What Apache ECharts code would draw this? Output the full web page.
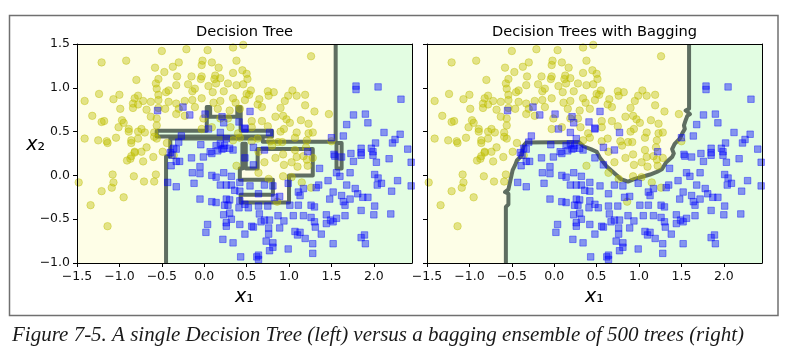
<!DOCTYPE html>
<html>
<head>
<meta charset="utf-8">
<script src="https://cdn.jsdelivr.net/npm/echarts@6/dist/echarts.min.js"></script>
<style>html,body{margin:0;padding:0;background:#fff}#c{width:792px;height:355px}</style>
</head>
<body>
<div id="c"></div>
<script>
// ---- tick labels ----
const xTicks = [-1.5, -1.0, -0.5, 0.0, 0.5, 1.0, 1.5, 2.0];
const yTicks = [-1.0, -0.5, 0.0, 0.5, 1.0, 1.5];
const xRange = [-1.5, 2.45];
const yRange = [-1.0, 1.5];

// ---- moons data: class 0 (yellow circles) ----
const class0 = [
[-0.50,1.42],[-0.21,1.44],[0.04,1.43],[0.34,1.46],[0.46,1.49],[-1.21,1.29],[-0.92,1.31],[-0.58,1.23],[-0.47,1.18],[-0.37,1.24],
[-0.30,1.29],[-0.02,1.31],[-0.03,1.26],[0.09,1.29],[0.17,1.23],[0.38,1.31],[0.45,1.20],[0.34,1.17],[-0.80,1.09],[-0.54,1.10],
[-0.57,1.05],[-0.32,1.13],[-0.15,1.13],[-0.03,1.13],[-0.04,1.10],[0.13,1.14],[0.12,1.10],[0.19,1.11],[0.14,1.05],[0.28,1.05],
[0.38,1.03],[-0.56,0.99],[-0.42,0.97],[-0.54,0.92],[-0.45,0.95],[-0.33,1.03],[-0.19,1.04],[-0.11,0.99],[-0.14,0.96],[0.05,1.02],
[0.10,0.95],[0.23,0.96],[0.46,1.04],[-1.24,0.93],[-1.00,0.92],[-1.07,0.87],[-0.78,0.91],[-0.82,0.88],[-1.41,0.85],[-0.84,0.82],
[-0.72,0.85],[-0.63,0.84],[-0.78,0.81],[-0.54,0.86],[-0.42,0.84],[-0.33,0.82],[-0.23,0.85],[-0.14,0.86],[-0.03,0.88],[0.11,0.83],
[0.19,0.85],[0.34,0.88],[0.37,0.83],[0.42,0.76],[0.48,0.86],[-0.99,0.76],[-0.84,0.77],[-0.68,0.75],[-0.54,0.77],[-0.46,0.76],
[-0.30,0.76],[-0.11,0.78],[0.16,0.76],[0.30,0.74],[-1.32,0.68],[-1.21,0.61],[-1.18,0.62],[-0.97,0.63],[-0.95,0.60],[-1.01,0.55],
[-0.89,0.53],[-0.74,0.53],[-0.63,0.67],[-0.56,0.65],[-0.56,0.57],[-0.33,0.70],[-0.23,0.68],[-0.01,0.65],[0.19,0.65],[0.28,0.65],
[-0.89,0.50],[-0.78,0.50],[-0.70,0.49],[-0.59,0.49],[-0.56,0.42],[-0.59,0.44],[-1.41,0.42],[-1.25,0.40],[-1.15,0.39],[-1.14,0.37],
[-1.04,0.43],[-0.86,0.40],[-0.86,0.37],[-0.78,0.42],[-0.44,0.37],[-0.03,0.53],[0.09,0.55],[0.31,0.55],[0.40,0.48],[0.42,0.43],
[0.34,0.40],[-0.82,0.27],[-0.68,0.32],[-0.74,0.27],
[1.26,1.36],[0.50,1.16],[0.51,1.10],[0.55,0.97],[0.50,0.93],[0.53,0.92],[0.75,0.96],[0.82,0.95],[0.76,0.91],[0.65,0.87],
[0.63,0.81],[0.68,0.78],[0.99,0.91],[1.04,0.97],[1.09,0.91],[1.19,0.92],[0.95,0.85],[0.90,0.77],[1.19,0.80],[1.30,0.73],
[1.47,0.70],[0.84,0.67],[0.93,0.68],[0.97,0.64],[1.01,0.60],[1.14,0.63],[1.23,0.59],[0.56,0.62],[0.68,0.62],[0.75,0.56],
[0.56,0.55],[0.94,0.53],[0.90,0.50],[1.09,0.49],[1.23,0.48],[1.28,0.49],[1.07,0.43],[1.21,0.40],[0.63,0.42],[0.56,0.39],
[0.78,0.39],[0.87,0.38],[0.92,0.38],[0.80,0.34],[1.07,0.29],[1.20,0.32],[1.50,0.39],
[-1.48,-0.08],[-1.21,-0.18],[-1.09,-0.14],[-1.08,0.01],[-1.07,-0.08],[-0.95,-0.25],[-0.83,-0.01],[-0.71,-0.07],[-0.57,0.01],[-0.59,-0.07],
[-0.91,0.17],[-0.87,0.19],[-0.86,0.22],[-0.82,0.26],[-0.72,0.16],[-0.60,0.21],[-0.49,0.27],[-0.36,0.23],[0.38,0.11],[-1.34,-0.34],
[-1.14,-0.58],
[0.64,0.27],[0.71,0.15],[0.84,0.20],[0.93,0.24],[0.94,0.12],[1.03,0.15],[1.09,0.21],[1.17,0.22],[1.21,0.18],[1.28,0.20],
[1.10,0.10],[1.22,0.11],[0.64,0.03],[0.76,-0.04],[0.93,-0.01],[1.03,-0.02],[1.15,-0.08],[1.26,-0.14],[0.86,-0.30]
];

// ---- moons data: class 1 (blue squares) ----
const class1 = [
[-0.55,0.74],[-0.25,0.78],[-0.17,0.69],[0.01,0.70],[0.21,0.67],[0.23,0.60],[0.41,0.61],[0.48,0.53],[0.05,0.53],[0.19,0.49],
[0.26,0.42],[-0.27,0.45],[-0.30,0.38],[-0.04,0.35],[0.14,0.34],[0.19,0.36],[0.24,0.34],[0.23,0.31],[0.30,0.31],[0.34,0.29],
[-0.36,0.31],[-0.40,0.26],[-0.33,0.30],[0.07,0.27],[0.21,0.30],[0.16,0.28],
[0.54,0.73],[0.48,0.54],[0.77,0.49],[0.58,0.32],[0.71,0.29],[1.22,0.27],[1.79,1.02],[1.79,0.98],[2.05,1.01],[2.32,0.87],
[1.76,0.69],[1.90,0.70],[1.93,0.60],[1.68,0.58],[1.64,0.45],[2.12,0.49],[2.31,0.47],[2.25,0.41],[2.22,0.37],[2.02,0.37],
[1.50,0.43],[2.40,0.30],[1.85,0.31],[1.97,0.31],[1.99,0.27],[1.73,0.25],[1.85,0.26],[1.53,0.24],
[-0.38,0.23],[-0.39,0.11],[-0.33,0.16],[-0.29,0.16],[-0.15,0.20],[-0.01,0.21],[0.09,0.25],[-0.05,0.10],[-0.14,0.03],[-0.05,0.02],
[0.09,0.00],[0.14,-0.02],[0.23,0.03],[0.32,-0.01],[-0.43,-0.08],[-0.33,-0.13],[-0.12,-0.09],[0.19,-0.11],[0.26,-0.11],[0.32,-0.11],
[0.42,-0.08],[0.36,-0.17],[0.42,-0.18],[-0.05,-0.27],[0.09,-0.30],[0.14,-0.31],[0.26,-0.27],[0.30,-0.28],[0.24,-0.34],[0.28,-0.34],
[0.42,-0.29],[0.41,-0.37],[0.23,-0.45],[0.30,-0.43],[0.32,-0.50],[0.26,-0.54],[0.26,-0.58],[0.04,-0.56],[0.02,-0.65],[0.42,-0.56],
[0.22,-0.73],[0.34,-0.77],[0.43,-0.93],
[0.48,0.20],[0.58,0.12],[0.54,-0.12],[0.64,-0.21],[0.71,-0.11],[0.81,-0.12],[0.83,-0.25],[0.89,-0.24],[0.99,-0.09],[1.11,-0.19],
[1.13,-0.23],[1.11,-0.34],[1.01,-0.34],[1.17,-0.15],[1.36,0.08],[1.35,-0.11],[1.32,-0.14],[1.46,-0.06],[1.56,0.03],[1.60,-0.01],
[1.72,0.03],[1.68,-0.11],[1.52,-0.19],[1.48,-0.27],[1.62,-0.23],[1.64,-0.30],[1.66,-0.34],[1.72,-0.27],[1.81,-0.21],[1.87,-0.25],
[1.93,-0.25],[1.78,-0.15],[2.01,-0.35],[2.00,-0.45],[1.85,-0.40],[2.20,-0.44],[2.21,-0.18],[2.28,-0.06],[2.44,-0.12],[2.01,0.01],
[2.05,-0.03],[2.04,-0.11],[2.09,-0.09],[1.54,0.22],[1.62,0.21],[1.76,0.16],[1.85,0.23],[2.03,0.15],[2.18,0.19],[2.44,0.15],
[1.99,0.23],[0.48,-0.33],[0.52,-0.37],[0.64,-0.35],[0.75,-0.35],[0.65,-0.44],[0.67,-0.53],[0.71,-0.51],[0.77,-0.51],[0.87,-0.46],
[0.94,-0.52],[0.56,-0.58],[0.58,-0.59],[0.76,-0.60],[0.76,-0.67],[0.89,-0.60],[1.05,-0.46],[1.17,-0.46],[1.26,-0.34],[1.30,-0.36],
[1.26,-0.48],[1.30,-0.53],[1.31,-0.59],[1.38,-0.67],[1.44,-0.45],[1.44,-0.55],[1.49,-0.51],[1.52,-0.53],[1.56,-0.49],[1.66,-0.46],
[1.07,-0.64],[1.10,-0.68],[1.13,-0.65],[1.19,-0.72],[1.28,-0.78],[1.52,-0.78],[1.85,-0.71],[1.89,-0.68],[1.90,-0.78],[0.48,-0.67],
[0.73,-0.75],[0.81,-0.77],[0.81,-0.82],[0.77,-0.86],[0.99,-0.84],[1.28,-0.89],[0.64,-0.91],[0.64,-0.96],[0.62,-0.93]
];

// ---- decision regions of the single tree (polygon vertices in data units) ----
const treeGreenMain = [[-0.45,-1.3],[2.7,-1.3],[2.7,1.8],[1.55,1.8],[1.55,0.385],[0.69,0.385],[0.69,0.42],[-0.40,0.42],[-0.40,0.22],[-0.45,0.22]];
const treeGreenStrip = [[-0.56,0.445],[0.80,0.445],[0.80,0.51],[0.43,0.51],[0.43,0.78],[0.39,0.78],[0.39,0.67],[0.07,0.67],[0.07,0.78],[0.03,0.78],[0.03,0.51],[-0.56,0.51]];
const treeYellowCenter = [[0.45,0.36],[0.49,0.36],[0.49,0.08],[0.63,0.08],[0.63,0.30],[1.28,0.30],[1.28,0.0],[1.0,0.0],[1.0,-0.31],[0.43,-0.31],[0.43,-0.22],[0.81,-0.22],[0.81,-0.05],[0.42,-0.05],[0.42,0.08],[0.45,0.08]];
const treeYellowFinger = [[1.56,0.08],[1.62,0.08],[1.62,0.37],[1.56,0.37]];
// ---- decision region of the bagging ensemble (class 0 area) ----
const baggingYellow = [[-1.8,-1.3],[-0.57,-1.3],[-0.57,-0.36],[-0.54,-0.33],[-0.54,-0.21],[-0.58,-0.19],[-0.54,-0.16],[-0.52,-0.07],[-0.49,0.06],[-0.46,0.12],
[-0.44,0.17],[-0.39,0.22],[-0.38,0.25],[-0.36,0.34],[-0.33,0.375],[0.29,0.38],[0.35,0.33],[0.43,0.30],[0.50,0.27],[0.54,0.20],
[0.58,0.15],[0.62,0.10],[0.68,0.05],[0.74,0.0],[0.78,-0.04],[0.87,-0.07],[0.95,-0.04],[1.06,-0.01],[1.13,0.01],[1.21,0.04],
[1.27,0.07],[1.32,0.15],[1.39,0.21],[1.41,0.25],[1.39,0.30],[1.42,0.36],[1.48,0.42],[1.51,0.48],[1.54,0.53],[1.53,0.57],
[1.55,0.63],[1.57,0.68],[1.60,0.70],[1.55,0.74],[1.59,0.76],[1.59,1.8],[-1.8,1.8]];

const YELLOW_BG = '#fefee7', GREEN_BG = '#e2fde2';
const LINE = '#56665a';

const fmt = v => (v < 0 ? '\u2212' : '') + Math.abs(v).toFixed(1);
const FONT = 'DejaVu Sans';

function xAxes(g) {
  return [{
    type: 'value', gridIndex: g, min: xRange[0], max: xRange[1], position: 'bottom', z: 10,
    axisLine: {show: true, onZero: false, lineStyle: {color: '#000', width: 1}},
    axisTick: {show: true, length: 4, customValues: xTicks, lineStyle: {color: '#000', width: 1}},
    axisLabel: {customValues: xTicks, formatter: fmt, fontFamily: FONT, fontSize: 12.5, color: '#111', margin: 7},
    splitLine: {show: false},
    name: '{i|x}{s|\u2081}', nameLocation: 'middle', nameGap: 25, nameMoveOverlap: false,
    nameTextStyle: {rich: {i: {fontFamily: FONT, fontStyle: 'italic', fontSize: 19, color: '#000'}, s: {fontFamily: FONT, fontSize: 19, color: '#000'}}}
  }, {
    type: 'value', gridIndex: g, min: xRange[0], max: xRange[1], position: 'top', z: 10,
    axisLine: {show: true, onZero: false, lineStyle: {color: '#000', width: 1}},
    axisTick: {show: false}, axisLabel: {show: false}, splitLine: {show: false}
  }];
}
function yAxes(g, labels) {
  const a = {
    type: 'value', gridIndex: g, min: yRange[0], max: yRange[1], position: 'left', z: 10,
    axisLine: {show: true, onZero: false, lineStyle: {color: '#000', width: 1}},
    axisTick: {show: true, length: 4, customValues: yTicks, lineStyle: {color: '#000', width: 1}},
    axisLabel: {show: labels, customValues: yTicks, formatter: fmt, fontFamily: FONT, fontSize: 12.5, color: '#111', margin: 7},
    splitLine: {show: false}
  };
  if (labels) {
    a.name = '{i|x}{s|\u2082}'; a.nameLocation = 'middle'; a.nameRotate = 0; a.nameGap = 32; a.nameMoveOverlap = false;
    a.nameTextStyle = {padding: [0, 0, 16, 0], rich: {i: {fontFamily: FONT, fontStyle: 'italic', fontSize: 19, color: '#000'}, s: {fontFamily: FONT, fontSize: 19, color: '#000'}}};
  }
  return [a, {
    type: 'value', gridIndex: g, min: yRange[0], max: yRange[1], position: 'right', z: 10,
    axisLine: {show: true, onZero: false, lineStyle: {color: '#000', width: 1}},
    axisTick: {show: false}, axisLabel: {show: false}, splitLine: {show: false}
  }];
}

function regions(polys, fills, xi, yi) {
  return {
    type: 'custom', xAxisIndex: xi, yAxisIndex: yi, clip: true, silent: true, z: 1,
    data: polys.map(() => [0, 0]),
    renderItem: (params, api) => ({
      type: 'polygon',
      shape: {points: polys[params.dataIndex].map(v => api.coord(v))},
      style: {fill: fills[params.dataIndex], stroke: LINE, lineWidth: 4, lineJoin: 'round', opacity: 0.95}
    })
  };
}
function dots(xi, yi) {
  return [{
    type: 'scatter', xAxisIndex: xi, yAxisIndex: yi, data: class0, symbol: 'circle', symbolSize: 7.5, z: 3, silent: true,
    itemStyle: {color: 'rgba(191,191,0,0.52)', borderColor: 'rgba(191,191,0,0.5)', borderWidth: 1}
  }, {
    type: 'scatter', xAxisIndex: xi, yAxisIndex: yi, data: class1, symbol: 'rect', symbolSize: 6.5, z: 4, silent: true,
    itemStyle: {color: 'rgba(0,0,255,0.52)', borderColor: 'rgba(0,0,255,0.5)', borderWidth: 1}
  }];
}

const chart = echarts.init(document.getElementById('c'), null, {renderer: 'canvas'});
chart.setOption({
  animation: false,
  backgroundColor: '#fff',
  grid: [
    {left: 77, top: 44, width: 335, height: 219, show: true, backgroundColor: YELLOW_BG, borderWidth: 0},
    {left: 427, top: 44, width: 335, height: 219, show: true, backgroundColor: GREEN_BG, borderWidth: 0}
  ],
  xAxis: [...xAxes(0), ...xAxes(1)],
  yAxis: [...yAxes(0, true), ...yAxes(1, false)],
  series: [
    regions([treeGreenMain, treeGreenStrip, treeYellowCenter, treeYellowFinger], [GREEN_BG, GREEN_BG, YELLOW_BG, YELLOW_BG], 0, 0),
    regions([baggingYellow], [YELLOW_BG], 2, 2),
    ...dots(0, 0),
    ...dots(2, 2)
  ],
  graphic: [
    {type: 'rect', z: 100, shape: {x: 9.5, y: 15.5, width: 768.5, height: 300}, style: {fill: 'none', stroke: '#707070', lineWidth: 1.5}},
    {type: 'text', z: 100, x: 244.5, y: 32, style: {text: 'Decision Tree', font: '14.6px "DejaVu Sans"', fill: '#000', align: 'center', verticalAlign: 'middle'}},
    {type: 'text', z: 100, x: 594.5, y: 32, style: {text: 'Decision Trees with Bagging', font: '14.6px "DejaVu Sans"', fill: '#000', align: 'center', verticalAlign: 'middle'}},
    {type: 'text', z: 100, x: 12, y: 335.5, style: {text: 'Figure 7-5. A single Decision Tree (left) versus a bagging ensemble of 500 trees (right)', font: 'italic 21px "Liberation Serif"', fill: '#1a1a1a', align: 'left', verticalAlign: 'middle'}}
  ]
});
</script>
</body>
</html>
